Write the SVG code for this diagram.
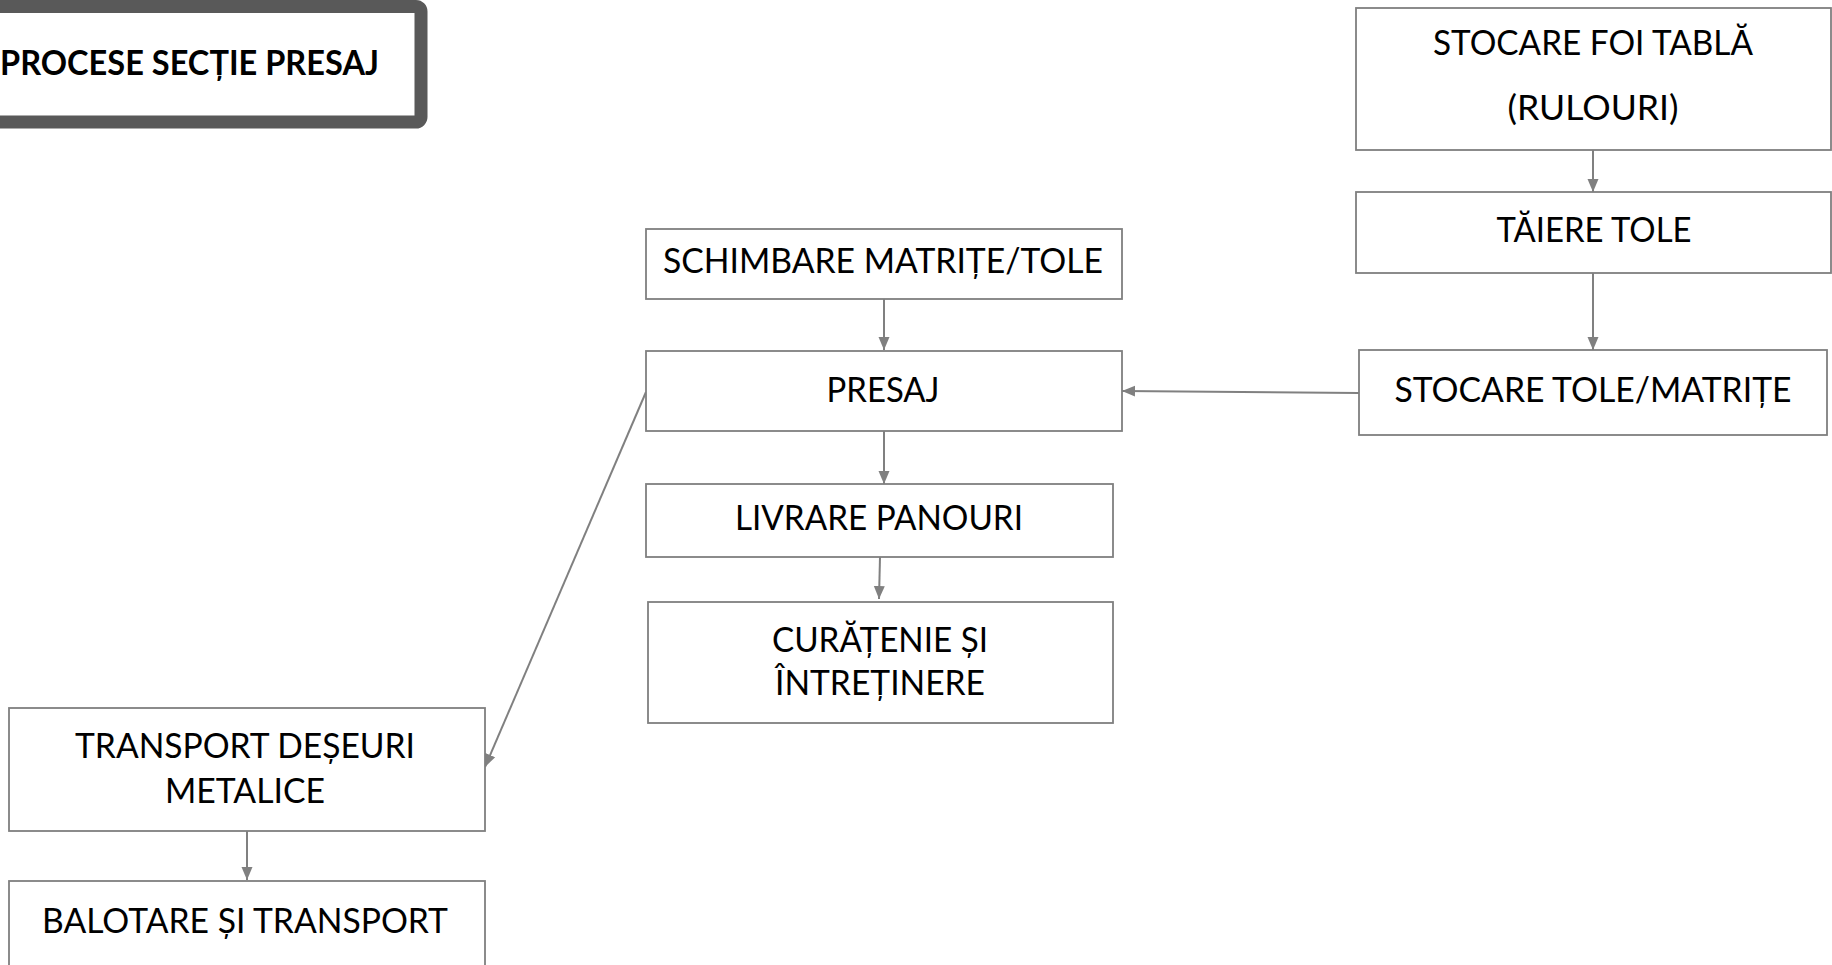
<svg xmlns="http://www.w3.org/2000/svg" width="1832" height="965" viewBox="0 0 1832 965">
<style>
.box{fill:#ffffff;stroke:#7f7f7f;stroke-width:1.8}
.t{font-family:Lato,"Liberation Sans",sans-serif;font-size:34px;fill:#000000;text-anchor:middle}
.c{stroke:#808080;stroke-width:2;fill:none}
</style>
<defs>
<marker id="ah" markerUnits="userSpaceOnUse" markerWidth="14" markerHeight="12" refX="13" refY="6" orient="auto" viewBox="0 0 14 12">
<path d="M0,0.5 L13,6 L0,11.5 Z" fill="#808080"/>
</marker>
</defs>
<rect width="1832" height="965" fill="#ffffff"/>
<g id="connectors">
<line class="c" x1="1593" y1="150" x2="1593" y2="192" marker-end="url(#ah)"/>
<line class="c" x1="1593" y1="273" x2="1593" y2="350" marker-end="url(#ah)"/>
<line class="c" x1="1359" y1="393" x2="1122" y2="391" marker-end="url(#ah)"/>
<line class="c" x1="884" y1="299" x2="884" y2="350" marker-end="url(#ah)"/>
<line class="c" x1="884" y1="431" x2="884" y2="484" marker-end="url(#ah)"/>
<line class="c" x1="880" y1="557" x2="879" y2="599" marker-end="url(#ah)"/>
<line class="c" x1="646" y1="392" x2="485" y2="767" marker-end="url(#ah)"/>
<line class="c" x1="247" y1="831" x2="247" y2="880" marker-end="url(#ah)"/>
</g>
<g id="title">
<rect x="-20" y="6.5" width="441" height="115.5" rx="5" fill="#ffffff" stroke="#595959" stroke-width="13"/>
<text x="0" y="75" font-family="Lato,'Liberation Sans',sans-serif" font-size="35" font-weight="bold" textLength="379" lengthAdjust="spacingAndGlyphs">PROCESE SECȚIE PRESAJ</text>
</g>
<g id="n-stocare-foi">
<rect class="box" x="1356" y="8" width="475" height="142"/>
<text class="t" x="1593" y="55" textLength="320" lengthAdjust="spacingAndGlyphs">STOCARE FOI TABLĂ</text>
<text class="t" x="1593" y="120" textLength="171" lengthAdjust="spacingAndGlyphs">(RULOURI)</text>
</g>
<g id="n-taiere">
<rect class="box" x="1356" y="192" width="475" height="81"/>
<text class="t" x="1594" y="242" textLength="195" lengthAdjust="spacingAndGlyphs">TĂIERE TOLE</text>
</g>
<g id="n-stocare-tole">
<rect class="box" x="1359" y="350" width="468" height="85"/>
<text class="t" x="1593" y="402" textLength="397" lengthAdjust="spacingAndGlyphs">STOCARE TOLE/MATRIȚE</text>
</g>
<g id="n-schimbare">
<rect class="box" x="646" y="229" width="476" height="70"/>
<text class="t" x="883" y="273" textLength="440" lengthAdjust="spacingAndGlyphs">SCHIMBARE MATRIȚE/TOLE</text>
</g>
<g id="n-presaj">
<rect class="box" x="646" y="351" width="476" height="80"/>
<text class="t" x="883" y="402" textLength="113" lengthAdjust="spacingAndGlyphs">PRESAJ</text>
</g>
<g id="n-livrare">
<rect class="box" x="646" y="484" width="467" height="73"/>
<text class="t" x="879" y="530" textLength="288" lengthAdjust="spacingAndGlyphs">LIVRARE PANOURI</text>
</g>
<g id="n-curatenie">
<rect class="box" x="648" y="602" width="465" height="121"/>
<text class="t" x="880" y="652" textLength="216" lengthAdjust="spacingAndGlyphs">CURĂȚENIE ȘI</text>
<text class="t" x="880" y="695" textLength="210" lengthAdjust="spacingAndGlyphs">ÎNTREȚINERE</text>
</g>
<g id="n-transport">
<rect class="box" x="9" y="708" width="476" height="123"/>
<text class="t" x="245" y="758" textLength="340" lengthAdjust="spacingAndGlyphs">TRANSPORT DEȘEURI</text>
<text class="t" x="245" y="803" textLength="160" lengthAdjust="spacingAndGlyphs">METALICE</text>
</g>
<g id="n-balotare">
<rect class="box" x="9" y="881" width="476" height="110"/>
<text class="t" x="245" y="933" textLength="406" lengthAdjust="spacingAndGlyphs">BALOTARE ȘI TRANSPORT</text>
</g>
</svg>
